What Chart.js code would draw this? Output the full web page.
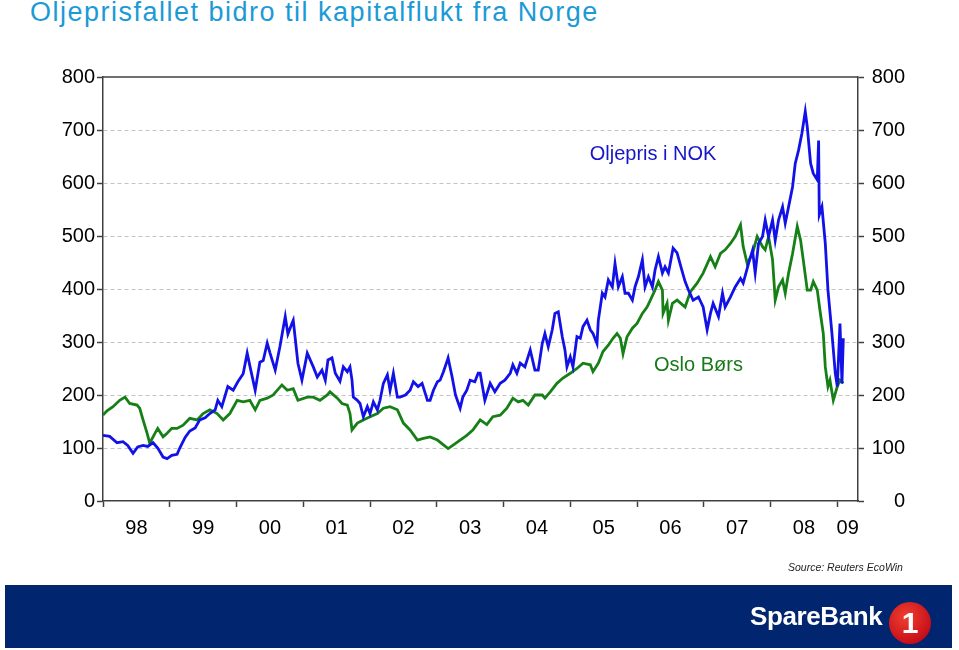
<!DOCTYPE html>
<html>
<head>
<meta charset="utf-8">
<script src="https://cdn.jsdelivr.net/npm/chart.js@4.4.1/dist/chart.umd.min.js"></script>
<style>
  body { margin: 0; width: 959px; height: 650px; background: #fff; position: relative; overflow: hidden;
         font-family: "Liberation Sans", Arial, sans-serif; }
  #title { position: absolute; left: 30px; top: -3px; font-size: 27px; color: #1b9ad6; letter-spacing: 1.5px; white-space: nowrap; }
  #wrap { position: absolute; left: 0; top: 0; width: 959px; height: 580px; }
  #source { position: absolute; left: 788px; top: 561px; font-size: 10.5px; font-style: italic; color: #222; white-space: nowrap; }
  #banner { position: absolute; left: 5px; top: 585px; width: 947px; height: 63px; background: #01266f; }
  #brand { position: absolute; left: 745px; top: 16px; font-size: 26px; font-weight: bold; color: #fff; letter-spacing: -0.4px; }
  #one { position: absolute; left: 884px; top: 17px; width: 42px; height: 42px; border-radius: 50%;
         background: radial-gradient(circle at 40% 35%, #f04030, #c8101a 70%, #8e0a10);
         color: #fff; font-weight: bold; font-size: 30px; text-align: center; line-height: 42px; }
</style>
</head>
<body>
<div id="title">Oljeprisfallet bidro til kapitalflukt fra Norge</div>
<div id="wrap"><canvas id="c" width="959" height="580"></canvas></div>
<div id="source">Source: Reuters EcoWin</div>
<div id="banner"><div id="brand">SpareBank</div><div id="one">1</div></div>
<script>
// oil price in NOK (blue) - decimal years / values
var oilYears = [
  1998.00,1998.10,1998.21,1998.30,1998.37,1998.45,1998.52,1998.60,1998.67,1998.75,1998.82,1998.90,1998.96,
  1999.03,1999.11,1999.15,1999.23,1999.30,1999.38,1999.45,1999.53,1999.60,1999.68,1999.72,1999.78,1999.87,1999.95,
  2000.02,2000.10,2000.16,2000.20,2000.28,2000.35,2000.40,2000.46,2000.50,2000.58,2000.65,2000.73,2000.77,2000.83,2000.85,2000.92,2000.98,
  2001.06,2001.15,2001.21,2001.28,2001.33,2001.37,2001.43,2001.48,2001.55,2001.60,2001.66,2001.70,2001.73,2001.75,2001.81,2001.85,2001.90,2001.96,
  2002.00,2002.05,2002.11,2002.15,2002.20,2002.26,2002.30,2002.35,2002.41,2002.45,2002.53,2002.60,2002.65,2002.72,2002.78,2002.86,2002.90,2002.95,
  2003.01,2003.05,2003.10,2003.16,2003.17,2003.23,2003.28,2003.35,2003.39,2003.45,2003.50,2003.57,2003.62,2003.65,2003.72,2003.80,2003.87,2003.95,
  2004.02,2004.10,2004.14,2004.20,2004.25,2004.32,2004.40,2004.47,2004.52,2004.58,2004.62,2004.67,2004.73,2004.77,2004.82,2004.88,2004.92,2004.95,
  2005.00,2005.04,2005.10,2005.15,2005.19,2005.25,2005.30,2005.34,2005.40,2005.42,2005.48,2005.52,2005.57,2005.63,2005.67,2005.72,2005.78,2005.82,2005.87,2005.93,2005.97,
  2006.02,2006.08,2006.12,2006.17,2006.23,2006.27,2006.32,2006.38,2006.42,2006.47,2006.54,2006.60,2006.65,2006.72,2006.77,2006.84,2006.92,2006.99,
  2007.05,2007.10,2007.14,2007.22,2007.28,2007.32,2007.40,2007.47,2007.55,2007.59,2007.67,2007.73,2007.77,2007.82,2007.88,2007.92,2007.97,
  2008.03,2008.07,2008.12,2008.18,2008.22,2008.27,2008.33,2008.37,2008.42,2008.47,2008.52,2008.55,2008.60,2008.64,2008.70,2008.72,2008.73,2008.77,2008.82,2008.86,2008.92,2008.97,
  2009.00,2009.04,2009.07,2009.09
];
var oilNok = [
  124,122,110,112,105,90,102,105,103,110,100,83,80,
  86,88,100,120,132,138,153,157,165,172,190,178,216,209,
  225,240,279,255,209,262,265,298,280,247,291,348,315,335,341,260,228,
  279,253,234,247,228,266,270,241,226,253,244,253,228,196,190,184,159,178,
  165,187,172,190,222,238,209,241,196,196,200,209,225,216,222,190,190,209,
  225,228,244,266,270,234,200,175,196,209,228,225,241,241,190,222,206,222,
  228,241,257,241,260,253,285,247,247,297,316,291,323,354,357,310,285,253,
  272,253,310,307,329,341,323,316,297,341,392,385,417,404,448,404,423,392,392,379,404,
  423,455,404,423,404,436,461,430,442,430,477,468,445,414,398,379,385,366,
  323,354,373,348,392,366,385,404,420,411,448,473,430,486,499,530,499,
  530,492,530,555,524,555,593,637,662,694,735,706,637,618,606,680,540,555,486,398,316,241,
  216,335,222,307
];

// Oslo Børs (green)
var oseYears = [
  1998.00,1998.06,1998.15,1998.25,1998.33,1998.40,1998.51,1998.55,1998.60,1998.66,1998.70,1998.78,1998.82,1998.90,1998.96,
  1999.03,1999.11,1999.20,1999.30,1999.41,1999.50,1999.60,1999.71,1999.80,1999.90,
  2000.01,2000.10,2000.20,2000.28,2000.35,2000.46,2000.55,2000.68,2000.76,2000.85,2000.92,
  2001.06,2001.15,2001.25,2001.36,2001.40,2001.51,2001.58,2001.66,2001.70,2001.73,2001.81,2001.90,
  2002.00,2002.11,2002.20,2002.30,2002.41,2002.50,2002.60,2002.71,2002.80,2002.90,
  2003.01,2003.10,2003.17,2003.25,2003.35,2003.45,2003.54,2003.65,2003.75,2003.84,2003.95,
  2004.05,2004.14,2004.22,2004.29,2004.37,2004.47,2004.58,2004.62,2004.70,2004.80,2004.89,
  2005.00,2005.10,2005.19,2005.30,2005.34,2005.42,2005.49,2005.57,2005.64,2005.70,2005.75,2005.79,2005.85,2005.93,
  2006.00,2006.08,2006.15,2006.20,2006.27,2006.32,2006.38,2006.39,2006.45,2006.47,2006.53,2006.60,2006.72,2006.80,2006.90,2006.99,
  2007.10,2007.17,2007.25,2007.32,2007.40,2007.47,2007.55,2007.59,2007.65,2007.73,2007.80,2007.88,2007.92,2007.97,
  2008.03,2008.07,2008.12,2008.18,2008.22,2008.27,2008.33,2008.40,2008.45,2008.49,2008.55,2008.60,2008.64,2008.70,2008.74,2008.79,2008.82,2008.86,2008.89,2008.94,
  2009.00,2009.04,2009.09
];
var oseIndex = [
  162,170,178,190,196,184,181,175,153,128,109,128,137,121,128,
  137,137,143,156,153,165,172,165,153,165,
  190,187,190,172,190,194,200,219,209,212,190,
  196,196,190,200,206,194,184,181,165,134,147,153,
  159,165,175,178,172,147,134,115,118,121,
  115,106,99,106,115,124,134,153,144,159,162,
  175,194,187,190,181,200,200,194,206,222,232,
  241,250,260,257,244,260,282,294,307,316,307,278,310,326,
  335,354,366,379,398,414,398,354,373,341,373,379,366,395,411,430,
  461,442,467,474,486,499,521,480,448,467,499,480,474,499,
  455,379,404,417,392,430,467,518,492,455,398,398,414,398,360,316,253,216,228,190,
  216,228,222
];

var yearTicks = [1998,1999,2000,2001,2002,2003,2004,2005,2006,2007,2008,2009];
var yearLabels = ['98','99','00','01','02','03','04','05','06','07','08','09'];
var xEnd = 2009.31;

var notes = [
  { text: 'Oljepris i NOK', x: 2006.24, y: 653, color: '#1616c8' },
  { text: 'Oslo Børs', x: 2006.92, y: 255, color: '#187a18' }
];

Chart.defaults.font.family = '"Liberation Sans", Arial, sans-serif';

function toPoints(xs, ys) {
  return xs.map(function(t, i) { return { x: t, y: ys[i] }; });
}

// top frame line, x labels between ticks, series captions
var extras = {
  id: 'extras',
  afterDraw: function(chart) {
    var c = chart.ctx, a = chart.chartArea;
    var xs = chart.scales.x, ys = chart.scales.y;
    c.save();
    c.strokeStyle = '#404040';
    c.lineWidth = 1.5;
    c.beginPath();
    c.moveTo(a.left, a.top);
    c.lineTo(a.right, a.top);
    c.stroke();

    c.fillStyle = '#000';
    c.font = '20px "Liberation Sans", Arial, sans-serif';
    c.textAlign = 'center';
    c.textBaseline = 'middle';
    yearTicks.forEach(function(yr, i) {
      var mid = (yr + Math.min(yr + 1, xEnd)) / 2;
      c.fillText(yearLabels[i], xs.getPixelForValue(mid), a.bottom + 27);
    });

    notes.forEach(function(n) {
      c.fillStyle = n.color;
      c.fillText(n.text, xs.getPixelForValue(n.x), ys.getPixelForValue(n.y));
    });
    c.restore();
  }
};

var gridColor = function(ctx) {
  var v = ctx.tick && ctx.tick.value;
  return (v === 0 || v === 800) ? 'rgba(0,0,0,0)' : '#c4c4c4';
};

var chart = new Chart(document.getElementById('c'), {
  type: 'line',
  data: {
    datasets: [
      { label: 'Oljepris i NOK', data: toPoints(oilYears, oilNok), borderColor: '#1212e8', borderWidth: 2.8,
        pointRadius: 0, tension: 0, yAxisID: 'y' },
      { label: 'Oslo Børs', data: toPoints(oseYears, oseIndex), borderColor: '#168016', borderWidth: 2.8,
        pointRadius: 0, tension: 0, yAxisID: 'y' }
    ]
  },
  options: {
    responsive: false,
    animation: false,
    devicePixelRatio: 1,
    layout: { padding: { top: 77, left: 0, right: 54, bottom: 0 } },
    plugins: { legend: { display: false }, tooltip: { enabled: false } },
    scales: {
      x: {
        type: 'linear', min: 1998, max: xEnd,
        afterBuildTicks: function(s) { s.ticks = yearTicks.map(function(v) { return { value: v }; }); },
        afterFit: function(s) { s.height = 79; },
        ticks: { callback: function() { return ''; } },
        grid: { drawOnChartArea: false, tickLength: 6, tickColor: '#404040', tickWidth: 1.5 },
        border: { color: '#404040', width: 1.5 }
      },
      y: {
        position: 'left', min: 0, max: 800,
        afterFit: function(s) { s.width = 103; },
        ticks: { stepSize: 100, color: '#000', font: { size: 20 }, padding: 2 },
        grid: { color: gridColor, lineWidth: 1, tickLength: 6, tickColor: '#404040', tickWidth: 1.5 },
        border: { color: '#404040', width: 1.5, dash: [4, 3] }
      },
      y2: {
        position: 'right', min: 0, max: 800,
        afterFit: function(s) { s.width = 47; },
        ticks: { stepSize: 100, color: '#000', font: { size: 20 }, crossAlign: 'far' },
        grid: { drawOnChartArea: false, tickLength: 6, tickColor: '#404040', tickWidth: 1.5 },
        border: { color: '#404040', width: 1.5 }
      }
    }
  },
  plugins: [extras]
});
</script>
</body>
</html>
